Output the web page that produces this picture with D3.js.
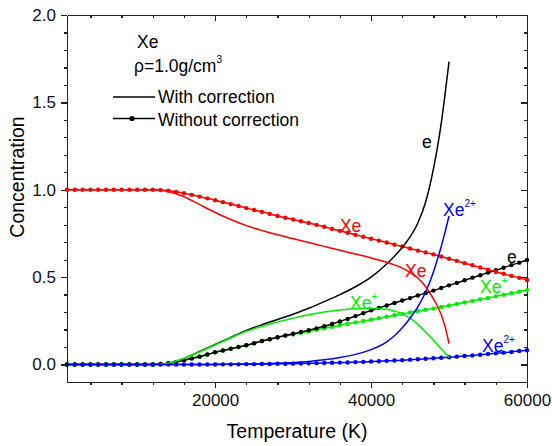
<!DOCTYPE html>
<meta charset="utf-8">
<style>
body { margin: 0; background: #fff; }
svg { font-family: "Liberation Sans", Arial, sans-serif; }
.axis text { font-size: 17px; fill: #111; }
.axis path, .axis line { stroke: #222; stroke-width: 1.3px; shape-rendering: crispEdges; }
.lbl { font-size: 17.5px; }
</style>
<body>
<div id="chart"></div>
<script src="https://cdn.jsdelivr.net/npm/d3@7"></script>
<script>
// temperature grid of the "without correction" runs (one point per 1000 K)
var tempsNoCorr = d3.range(1000, 60001, 1000);
var xeNoCorr = [1,1,1,1,1,1,1,1,1,1,1,1,
  0.998,0.994,0.988,0.98,0.971,0.961,0.951,0.94,0.929,0.918,0.907,0.895,0.884,0.873,0.862,0.85,
  0.84,0.83,0.82,0.81,0.799,0.788,0.776,0.765,0.754,0.742,0.731,0.72,0.709,0.698,0.686,0.675,
  0.664,0.652,0.641,0.63,0.618,0.605,0.593,0.58,0.568,0.555,0.543,0.53,0.519,0.507,0.496,0.484];
var xe1NoCorr = [0,0,0,0,0,0,0,0,0,0,0,0,
  0.003,0.008,0.015,0.025,0.035,0.045,0.057,0.07,0.08,0.09,0.1,0.11,0.122,0.135,0.145,0.155,
  0.164,0.172,0.181,0.19,0.199,0.207,0.216,0.225,0.233,0.241,0.249,0.256,0.265,0.273,0.282,0.29,
  0.298,0.305,0.313,0.32,0.329,0.338,0.346,0.355,0.364,0.373,0.381,0.39,0.399,0.408,0.417,0.426];
var eNoCorr = [0,0,0,0,0,0,0,0,0,0,0,0,
  0.003,0.008,0.015,0.025,0.035,0.045,0.057,0.07,0.08,0.09,0.1,0.11,0.122,0.135,0.145,0.156,
  0.166,0.176,0.186,0.196,0.207,0.219,0.232,0.246,0.261,0.277,0.293,0.31,0.324,0.338,0.352,0.366,
  0.38,0.395,0.409,0.423,0.438,0.453,0.467,0.482,0.497,0.511,0.526,0.54,0.554,0.569,0.583,0.598];
var xe2NoCorr = [0,0,0,0,0,0,0,0,0,0,0,0,0,0,0,0,0,0,0,0,
  0.001,0.001,0.001,0.002,0.002,0.003,0.003,0.004,0.004,0.005,0.006,0.007,0.008,0.009,0.01,0.011,
  0.012,0.014,0.015,0.017,0.019,0.021,0.023,0.025,0.028,0.03,0.033,0.036,0.039,0.042,0.045,0.049,
  0.052,0.056,0.06,0.064,0.068,0.072,0.077,0.082];

// "with correction" runs stop at 50000 K
var tempsCorr = [1000,4000,8000,12000,14000,16000,18000,20000,22000,24000,26000,28000,30000,32000,
  34000,36000,38000,40000,42000,43000,44000,45000,46000,47000,48000,48500,49000,49500,50000];
var xeCorr = [1,1,1,1,0.99,0.96,0.915,0.87,0.83,0.795,0.767,0.742,0.72,0.698,
  0.676,0.654,0.632,0.61,0.585,0.57,0.552,0.527,0.495,0.445,0.375,0.335,0.285,0.215,0.12];
var eCorr = [0,0,0,0,0.008,0.035,0.075,0.115,0.155,0.195,0.228,0.258,0.288,0.322,
  0.36,0.4,0.445,0.5,0.575,0.62,0.67,0.73,0.81,0.93,1.12,1.24,1.38,1.55,1.733];
var xe1Corr = [0,0,0,0,0.008,0.035,0.072,0.112,0.152,0.19,0.218,0.243,0.265,0.285,
  0.3,0.312,0.319,0.322,0.316,0.306,0.29,0.265,0.23,0.185,0.14,0.115,0.09,0.065,0.04];
var xe2Corr = [0,0,0,0,0,0,0,0.001,0.002,0.003,0.005,0.008,0.012,0.018,
  0.027,0.04,0.058,0.085,0.13,0.165,0.21,0.265,0.33,0.415,0.53,0.6,0.675,0.76,0.85];

var xMajor = [20000, 40000, 60000];
var xMinor = [4000, 8000, 12000, 16000, 24000, 28000, 32000, 36000, 44000, 48000, 52000, 56000];
var yMajor = [0, 0.5, 1.0, 1.5, 2.0];
var yMinor = [0.1, 0.2, 0.3, 0.4, 0.6, 0.7, 0.8, 0.9, 1.1, 1.2, 1.3, 1.4, 1.6, 1.7, 1.8, 1.9];

var margin = {top: 15, right: 25, bottom: 64, left: 67},
    width = 552 - margin.left - margin.right,
    height = 446 - margin.top - margin.bottom;

var svg = d3.select("#chart").append("svg")
    .attr("width", 552).attr("height", 446)
  .append("g")
    .attr("transform", "translate(" + margin.left + "," + margin.top + ")");

var x = d3.scaleLinear().domain([1000, 60000]).range([0, width]);
var y = d3.scaleLinear().domain([-0.1, 2.0]).range([height, 0]);

// axes: outward ticks left/bottom, inward ticks top/right
function addAxis(axis, tr) {
  svg.append("g").attr("class", "axis").attr("transform", tr).call(axis);
}
addAxis(d3.axisBottom(x).tickValues(xMajor).tickSize(6).tickSizeOuter(0).tickPadding(6).tickFormat(d3.format("d")), "translate(0," + height + ")");
addAxis(d3.axisBottom(x).tickValues(xMinor).tickSize(3).tickSizeOuter(0).tickFormat(""), "translate(0," + height + ")");
addAxis(d3.axisLeft(y).tickValues(yMajor).tickSize(6).tickSizeOuter(0).tickPadding(5).tickFormat(d3.format(".1f")), "translate(0,0)");
addAxis(d3.axisLeft(y).tickValues(yMinor).tickSize(3).tickSizeOuter(0).tickFormat(""), "translate(0,0)");
addAxis(d3.axisTop(x).tickValues(xMajor).tickSize(-6).tickSizeOuter(0).tickFormat(""), "translate(0,0)");
addAxis(d3.axisTop(x).tickValues(xMinor).tickSize(-3).tickSizeOuter(0).tickFormat(""), "translate(0,0)");
addAxis(d3.axisRight(y).tickValues(yMajor).tickSize(-6).tickSizeOuter(0).tickFormat(""), "translate(" + width + ",0)");
addAxis(d3.axisRight(y).tickValues(yMinor).tickSize(-3).tickSizeOuter(0).tickFormat(""), "translate(" + width + ",0)");

var line = d3.line()
    .x(function(d) { return x(d[0]); })
    .y(function(d) { return y(d[1]); })
    .curve(d3.curveMonotoneX);

var noCorr = [
  {vals: xe2NoCorr, color: "#0000ff"},
  {vals: xe1NoCorr, color: "#00ee00"},
  {vals: eNoCorr, color: "#000000"},
  {vals: xeNoCorr, color: "#ff0000"}
];
var corr = [
  {vals: eCorr, color: "#000000"},
  {vals: xe1Corr, color: "#00ee00"},
  {vals: xe2Corr, color: "#0000ff"},
  {vals: xeCorr, color: "#ff0000"}
];

noCorr.forEach(function(s) {
  var pts = tempsNoCorr.map(function(t, i) { return [t, s.vals[i]]; });
  svg.append("path").datum(pts)
    .attr("fill", "none").attr("stroke", s.color).attr("stroke-width", 1.5)
    .attr("d", line);
  svg.append("g").selectAll("circle").data(pts).enter().append("circle")
    .attr("cx", function(d) { return x(d[0]); })
    .attr("cy", function(d) { return y(d[1]); })
    .attr("r", 2.2)
    .attr("fill", s.color);
});

corr.forEach(function(s) {
  var pts = tempsCorr.map(function(t, i) { return [t, s.vals[i]]; });
  svg.append("path").datum(pts)
    .attr("fill", "none").attr("stroke", s.color).attr("stroke-width", 1.5)
    .attr("d", line);
});

// curve labels, anchored at data coordinates
var labels = [
  {t: 36000, v: 0.758, txt: "Xe", sup: "", color: "#ff0000"},
  {t: 44350, v: 0.50, txt: "Xe", sup: "", color: "#ff0000"},
  {t: 37300, v: 0.318, txt: "Xe", sup: "+", color: "#00ee00"},
  {t: 53970, v: 0.41, txt: "Xe", sup: "+", color: "#00ee00"},
  {t: 49230, v: 0.85, txt: "Xe", sup: "2+", color: "#0000ff"},
  {t: 54230, v: 0.072, txt: "Xe", sup: "2+", color: "#0000ff"},
  {t: 57430, v: 0.58, txt: "e", sup: "", color: "#000000"},
  {t: 46530, v: 1.24, txt: "e", sup: "", color: "#000000"}
];
labels.forEach(function(l) {
  var tx = svg.append("text").attr("class", "lbl")
    .attr("x", x(l.t)).attr("y", y(l.v)).attr("fill", l.color).text(l.txt);
  if (l.sup) tx.append("tspan").attr("dy", -9).attr("font-size", 10).text(l.sup);
});

// legend block
var lg = svg.append("g").attr("transform", "translate(" + (-margin.left) + "," + (-margin.top) + ")");
lg.append("text").attr("class", "lbl").attr("x", 137).attr("y", 48).text("Xe");
var rho = lg.append("text").attr("class", "lbl").attr("x", 134).attr("y", 72).text("\u03c1=1.0g/cm");
rho.append("tspan").attr("dy", -9).attr("font-size", 10).text("3");
lg.append("line").attr("x1", 113).attr("x2", 155).attr("y1", 97).attr("y2", 97)
  .attr("stroke", "#000").attr("stroke-width", 1.5);
lg.append("text").attr("class", "lbl").attr("x", 158).attr("y", 103).text("With correction");
lg.append("line").attr("x1", 113).attr("x2", 155).attr("y1", 118.5).attr("y2", 118.5)
  .attr("stroke", "#000").attr("stroke-width", 1.5);
lg.append("circle").attr("cx", 132).attr("cy", 118.5).attr("r", 2.6).attr("fill", "#000");
lg.append("text").attr("class", "lbl").attr("x", 158).attr("y", 126).text("Without correction");

// axis titles
svg.append("text").attr("class", "lbl").attr("text-anchor", "middle")
  .attr("x", width / 2).attr("y", 438 - margin.top)
  .style("font-size", "19.5px").text("Temperature (K)");
svg.append("text").attr("class", "lbl").attr("text-anchor", "middle")
  .attr("transform", "translate(" + (24 - margin.left) + "," + (177 - margin.top) + ") rotate(-90)")
  .style("font-size", "19.5px").text("Concentration");
</script>
</body>
